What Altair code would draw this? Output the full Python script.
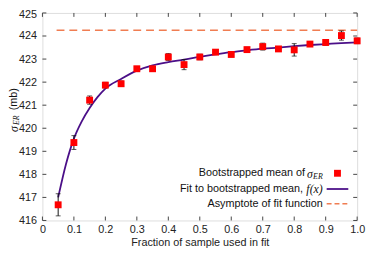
import altair as alt
import pandas as pd

# Bootstrapped means
frac = [0.05, 0.10, 0.15, 0.20, 0.25, 0.30, 0.35, 0.40, 0.45, 0.50,
        0.55, 0.60, 0.65, 0.70, 0.75, 0.80, 0.85, 0.90, 0.95, 1.00]
mean = [416.68, 419.38, 421.22, 421.87, 421.93, 422.58, 422.58, 423.09, 422.76, 423.09,
        423.30, 423.20, 423.41, 423.54, 423.44, 423.40, 423.65, 423.72, 424.02, 423.79]
err = [0.48, 0.30, 0.18, 0.12, 0.12, 0.10, 0.10, 0.15, 0.22, 0.12,
       0.10, 0.10, 0.10, 0.15, 0.10, 0.27, 0.10, 0.12, 0.20, 0.12]

# Fit curve
fit_x = [0.05, 0.075, 0.10, 0.125, 0.15, 0.175, 0.20, 0.25, 0.30, 0.35, 0.40, 0.45,
         0.50, 0.55, 0.60, 0.65, 0.70, 0.75, 0.80, 0.85, 0.90, 0.95, 1.00]
fit_y = [417.00, 418.45, 419.55, 420.30, 420.88, 421.35, 421.72, 422.14, 422.50, 422.73,
         422.87, 422.98, 423.10, 423.20, 423.30, 423.38, 423.45, 423.50, 423.56, 423.61,
         423.65, 423.69, 423.72]

asym_x = [0.045, 1.0]
asym_y = [424.25, 424.25]

x_ticks = [0.0, 0.1, 0.2, 0.3, 0.4, 0.5, 0.6, 0.7, 0.8, 0.9, 1.0]
y_ticks = [416, 417, 418, 419, 420, 421, 422, 423, 424, 425]

W, H = 320, 211
RED = "#ff0000"
PURPLE = "#4b0f88"
ORANGE = "#f07d52"
SANS = "Liberation Sans"
SERIF = "Liberation Serif"

pts = pd.DataFrame({"x": frac, "y": mean,
                    "lo": [m - e for m, e in zip(mean, err)],
                    "hi": [m + e for m, e in zip(mean, err)]})
fit = pd.DataFrame({"x": fit_x, "y": fit_y})
asym = pd.DataFrame({"x": asym_x, "y": asym_y})
xt = pd.DataFrame({"v": x_ticks})
yt = pd.DataFrame({"v": y_ticks})

xs = alt.Scale(domain=[0, 1], nice=False, zero=False)
ys = alt.Scale(domain=[416, 425], nice=False, zero=False)

xax = alt.Axis(values=x_ticks, ticks=False, domain=False, grid=False,
               labelExpr="datum.value == 0 ? '0' : format(datum.value, '.1f')",
               labelFont=SANS, labelFontSize=11, labelColor="#222",
               labelOverlap=False, labelFlush=False,
               labelPadding=3, title="Fraction of sample used in fit",
               titleFont=SANS, titleFontSize=11, titleFontWeight="normal",
               titleColor="#222", titlePadding=2)
yax = alt.Axis(values=y_ticks, ticks=False, domain=False, grid=False,
               labelFont=SANS, labelFontSize=11, labelColor="#222",
               labelOverlap=False, labelFlush=False,
               labelOffset={"condition": {"test": "datum.value == 425", "value": 2},
                            "value": 0},
               labelPadding=6, title=None)


def X(f):
    return alt.X(f, scale=xs, axis=xax)


def Y(f):
    return alt.Y(f, scale=ys, axis=yax)


asym_line = alt.Chart(asym).mark_line(color=ORANGE, strokeWidth=1.5,
                                      strokeDash=[8, 5]).encode(
    x=X("x:Q"), y=Y("y:Q"))
fit_line = alt.Chart(fit).mark_line(color=PURPLE, strokeWidth=1.8,
                                    interpolate="monotone").encode(
    x=X("x:Q"), y=Y("y:Q"))
ebar = alt.Chart(pts).mark_rule(color="#111", strokeWidth=1).encode(
    x=X("x:Q"), y=Y("lo:Q"), y2="hi:Q")
cap_lo = alt.Chart(pts).mark_tick(color="#111", orient="horizontal", size=5,
                                  thickness=1).encode(x=X("x:Q"), y=Y("lo:Q"))
cap_hi = alt.Chart(pts).mark_tick(color="#111", orient="horizontal", size=5,
                                  thickness=1).encode(x=X("x:Q"), y=Y("hi:Q"))
squares = alt.Chart(pts).mark_point(shape="square", filled=True, color=RED,
                                    size=49, opacity=1).encode(
    x=X("x:Q"), y=Y("y:Q"))

TC = "#444"
tick_top = alt.Chart(xt).mark_rule(color=TC).encode(
    x=X("v:Q"), y=alt.value(0), y2=alt.value(4))
tick_bot = alt.Chart(xt).mark_rule(color=TC).encode(
    x=X("v:Q"), y=alt.value(H), y2=alt.value(H - 4))
tick_left = alt.Chart(yt).mark_rule(color=TC).encode(
    y=Y("v:Q"), x=alt.value(0), x2=alt.value(4))
tick_right = alt.Chart(yt).mark_rule(color=TC).encode(
    y=Y("v:Q"), x=alt.value(W), x2=alt.value(W - 4))


def txt(s, x, y, font=SANS, size=11, style="normal", align="right",
        baseline="middle", angle=0):
    kw = dict(text=s, font=font, fontSize=size, fontStyle=style, align=align,
              baseline=baseline, color="#111")
    if angle:
        kw["angle"] = angle
    return alt.Chart(pd.DataFrame({"a": [0]})).mark_text(**kw).encode(
        x=alt.value(x), y=alt.value(y))


# legend
lx = 285
leg = [
    txt("Bootstrapped mean of ", lx - 18, 163),
    txt("σ", lx - 10, 164, font=SERIF, size=12, style="italic"),
    txt("ER", lx, 167, font=SERIF, size=8, style="italic"),
    txt("Fit to bootstrapped mean, ", lx - 20, 179),
    txt("f(x)", lx, 179, font=SERIF, size=12, style="italic"),
    txt("Asymptote of fit function", lx, 194),
]
leg_sq = alt.Chart(pd.DataFrame({"a": [0]})).mark_point(
    shape="square", filled=True, color=RED, size=49, opacity=1).encode(
    x=alt.value(300), y=alt.value(163))
leg_fit = alt.Chart(pd.DataFrame({"a": [0]})).mark_rule(
    color=PURPLE, strokeWidth=1.8).encode(
    x=alt.value(289), x2=alt.value(311), y=alt.value(179))
leg_asym = alt.Chart(pd.DataFrame({"a": [0]})).mark_rule(
    color=ORANGE, strokeWidth=1.5, strokeDash=[5, 3]).encode(
    x=alt.value(289), x2=alt.value(311), y=alt.value(194))

# y title
ytitle = [
    txt("σ", -29, 121, font=SERIF, size=12, style="italic", align="left", angle=270),
    txt("ER", -26, 114, font=SERIF, size=8, style="italic", align="left", angle=270),
    txt("(mb)", -29, 99, align="left", angle=270),
]

chart = alt.layer(
    asym_line, fit_line, ebar, cap_lo, cap_hi, squares,
    tick_top, tick_bot, tick_left, tick_right,
    *leg, leg_sq, leg_fit, leg_asym, *ytitle
).properties(
    width=W, height=H,
    autosize=alt.AutoSizeParams(type="none"),
    padding={"left": 35, "top": 3, "right": 9, "bottom": 29},
).configure_view(stroke="#666", strokeWidth=1).configure(background="white")

chart.save("out.html", embed_options={"renderer": "svg", "actions": False})
